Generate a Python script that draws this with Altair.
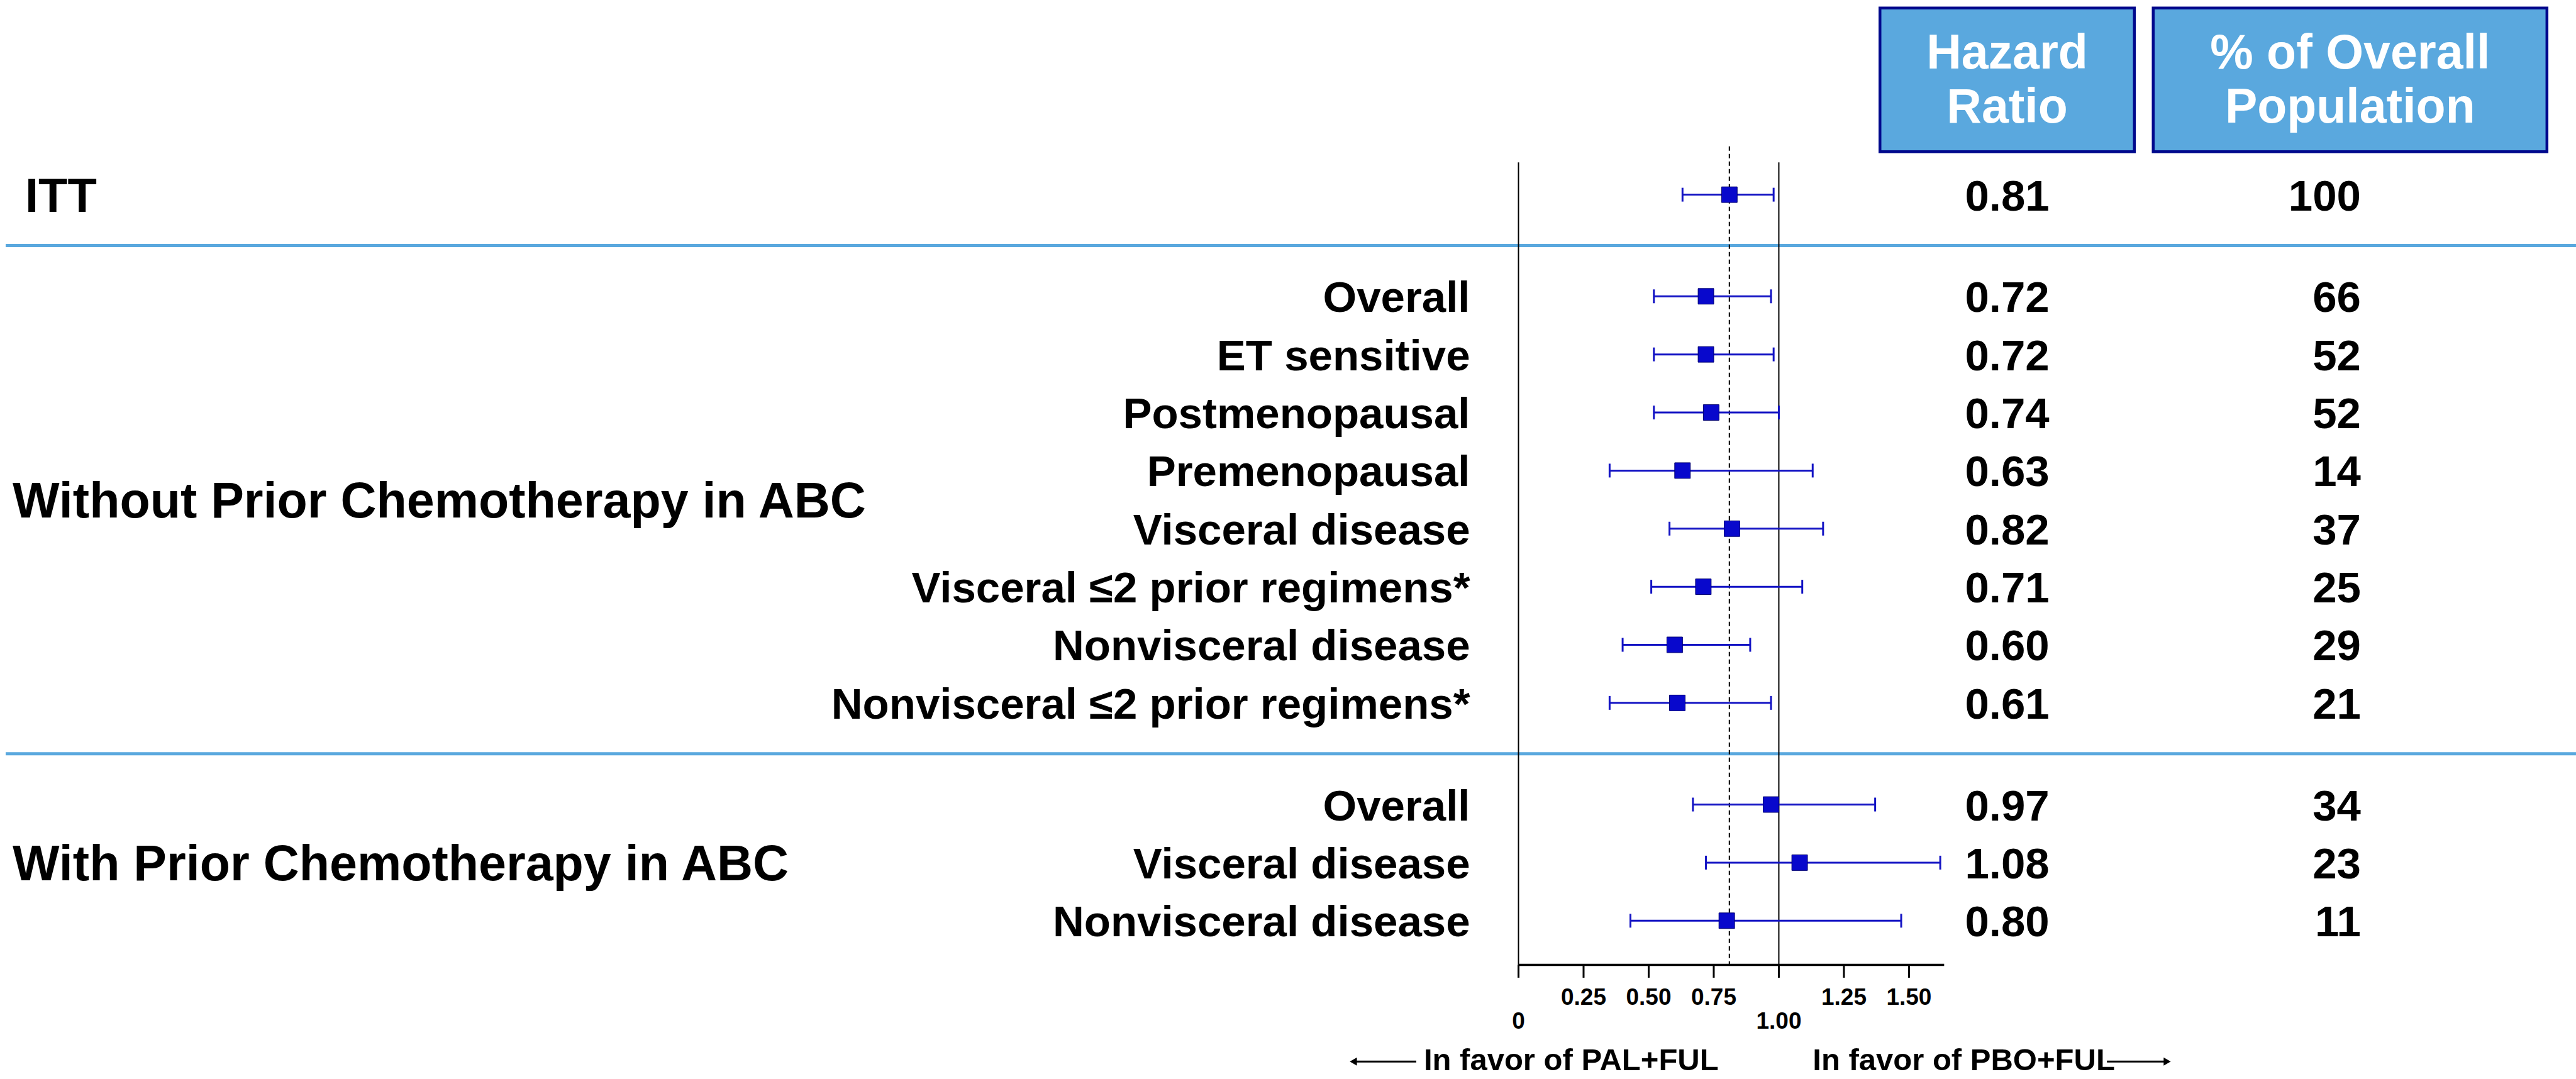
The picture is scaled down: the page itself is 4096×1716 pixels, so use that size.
import altair as alt
import pandas as pd

# ---------------------------------------------------------------- values
subgroups = [
    "ITT",
    "Overall", "ET sensitive", "Postmenopausal", "Premenopausal",
    "Visceral disease", "Visceral ≤2 prior regimens*",
    "Nonvisceral disease", "Nonvisceral ≤2 prior regimens*",
    "Overall", "Visceral disease", "Nonvisceral disease",
]
groups = (["ITT"]
          + ["Without Prior Chemotherapy in ABC"] * 8
          + ["With Prior Chemotherapy in ABC"] * 3)
hazard_ratio = [0.81, 0.72, 0.72, 0.74, 0.63, 0.82, 0.71, 0.60, 0.61, 0.97, 1.08, 0.80]
ci_low = [0.63, 0.52, 0.52, 0.52, 0.35, 0.58, 0.51, 0.40, 0.35, 0.67, 0.72, 0.43]
ci_high = [0.98, 0.97, 0.98, 1.00, 1.13, 1.17, 1.09, 0.89, 0.97, 1.37, 1.62, 1.47]
pct_overall = [100, 66, 52, 52, 14, 37, 25, 29, 21, 34, 23, 11]

axis_ticks = [0, 0.25, 0.50, 0.75, 1.00, 1.25, 1.50]
axis_tick_labels = ["0", "0.25", "0.50", "0.75", "1.00", "1.25", "1.50"]
axis_end = 1.635
header_hr = ["Hazard", "Ratio"]
header_pct = ["% of Overall", "Population"]
favor_left = "In favor of PAL+FUL"
favor_right = "In favor of PBO+FUL"

# ---------------------------------------------------------------- layout
W, H = 4096, 1716
S = W / 4789.0                      # design units -> pixels
FONT = "Liberation Sans"
SEP_BLUE = "#5AA8DE"
BOX_FILL = "#5AA8DE"
BOX_EDGE = "#00088C"
CI_BLUE = "#1414C4"
SQ_BLUE = "#0808CC"

X0 = 2823 * S                       # pixel of HR = 0
UNIT = 484 * S                      # pixels per HR unit
x_scale = alt.Scale(domain=[-X0 / UNIT, (W - X0) / UNIT], nice=False, zero=False)

ROW0 = 362 * S                      # pixel of the first row
ROWH = 108 * S                      # pixels per row
y_scale = alt.Scale(domain=[-ROW0 / ROWH, (H - ROW0) / ROWH],
                    reverse=True, nice=False, zero=False)

# row slots: one unit per row, a wider step between groups
slots, s = [], 0.0
for i, g in enumerate(groups):
    if i > 0:
        s += 1.75 if g != groups[i - 1] else 1.0
    slots.append(s)

df = pd.DataFrame({
    "subgroup": subgroups, "group": groups, "slot": slots,
    "hr": hazard_ratio, "lo": ci_low, "hi": ci_high, "pct": pct_overall,
})
df["hr_txt"] = [f"{v:.2f}" for v in hazard_ratio]
df["pct_txt"] = [str(v) for v in pct_overall]

grp = df.groupby("group", sort=False)["slot"].agg(["min", "max"]).reset_index()
grp["mid"] = (grp["min"] + grp["max"]) / 2
sep = pd.DataFrame({"slot": [(grp["max"][i] + grp["min"][i + 1]) / 2
                             for i in range(len(grp) - 1)]})
group_lab = grp[grp["group"] != "ITT"]

itt = df[df["group"] == "ITT"]
rows = df[df["group"] != "ITT"]

ticks = pd.DataFrame({"t": axis_ticks, "lab": axis_tick_labels})
ticks["lower"] = [v in (0, 1.0) for v in axis_ticks]
refs = pd.DataFrame({"v": [0.0, 1.0]})
axis_df = pd.DataFrame({"a": [0.0], "b": [axis_end]})
one = pd.DataFrame({"k": [0]})

Y = alt.Y("slot:Q", scale=y_scale, axis=None)


def X(field):
    return alt.X(field, type="quantitative", scale=x_scale, axis=None)


layers = []

# header boxes and their titles
for (x1, x2, lines, cx) in [(3495, 3968, header_hr, 3731.5),
                            (4003, 4735, header_pct, 4369)]:
    layers.append(alt.Chart(one).mark_rect(
        fill=BOX_FILL, stroke=BOX_EDGE, strokeWidth=4.5).encode(
        x=alt.value(x1 * S), x2=alt.value(x2 * S),
        y=alt.value(15 * S), y2=alt.value(282 * S)))
    for ln, base in zip(lines, [128, 228]):
        layers.append(alt.Chart(one).mark_text(
            text=ln, font=FONT, fontWeight="bold", fontSize=77, color="white",
            align="center", baseline="alphabetic").encode(
            x=alt.value(cx * S), y=alt.value(base * S)))

# blue separators between groups
layers.append(alt.Chart(sep).mark_rule(color=SEP_BLUE, strokeWidth=5).encode(
    x=alt.value(9), x2=alt.value(W), y=Y))

# reference lines at HR 0 and 1, dashed line at the ITT estimate
layers.append(alt.Chart(refs).mark_rule(color="black", strokeWidth=2).encode(
    x=X("v"), y=alt.value(302 * S), y2=alt.value(1794 * S)))
layers.append(alt.Chart(itt).mark_rule(color="black", strokeWidth=2,
                                       strokeDash=[7, 5]).encode(
    x=X("hr"), y=alt.value(272 * S), y2=alt.value(1794 * S)))

# x axis drawn from the HR scale
layers.append(alt.Chart(axis_df).mark_rule(color="black", strokeWidth=3.5).encode(
    x=X("a"), x2="b:Q", y=alt.value(1794 * S)))
layers.append(alt.Chart(ticks).mark_rule(color="black", strokeWidth=3).encode(
    x=X("t"), y=alt.value(1794 * S), y2=alt.value(1818 * S)))
for lower, base in [(False, 1868), (True, 1913)]:
    layers.append(alt.Chart(ticks[ticks["lower"] == lower]).mark_text(
        font=FONT, fontWeight="bold", fontSize=37, color="black",
        align="center", baseline="alphabetic").encode(
        x=X("t"), y=alt.value(base * S), text="lab:N"))

# confidence intervals with end caps, and the estimates
layers.append(alt.Chart(df).mark_rule(color=CI_BLUE, strokeWidth=3).encode(
    x=X("lo"), x2="hi:Q", y=Y))
for f in ["lo", "hi"]:
    layers.append(alt.Chart(df).mark_tick(
        orient="vertical", size=22, thickness=3, color=CI_BLUE, opacity=1).encode(
        x=X(f), y=Y))
layers.append(alt.Chart(df).mark_square(
    size=620, color=SQ_BLUE, opacity=1, stroke="#000070", strokeWidth=1).encode(
    x=X("hr"), y=Y))

# text columns
text_kw = dict(font=FONT, fontWeight="bold", color="black", baseline="middle", dy=4)
layers.append(alt.Chart(itt).mark_text(align="left", fontSize=76, **text_kw).encode(
    x=alt.value(40), y=Y, text="subgroup:N"))
layers.append(alt.Chart(group_lab).mark_text(align="left", fontSize=79, **text_kw).encode(
    x=alt.value(20), y=alt.Y("mid:Q", scale=y_scale, axis=None), text="group:N"))
layers.append(alt.Chart(rows).mark_text(align="right", fontSize=69, **text_kw).encode(
    x=alt.value(2733 * S), y=Y, text="subgroup:N"))
layers.append(alt.Chart(df).mark_text(align="center", fontSize=69, **text_kw).encode(
    x=alt.value(3731.5 * S), y=Y, text="hr_txt:N"))
layers.append(alt.Chart(df).mark_text(align="right", fontSize=69, **text_kw).encode(
    x=alt.value(4389 * S), y=Y, text="pct_txt:N"))

# direction notes under the axis
ARROW_Y = 1974 * S
NOTE_BASE = 1990 * S
layers.append(alt.Chart(one).mark_text(
    text=favor_left, font=FONT, fontWeight="bold", fontSize=49, color="black",
    align="left", baseline="alphabetic").encode(
    x=alt.value(2647 * S), y=alt.value(NOTE_BASE)))
layers.append(alt.Chart(one).mark_text(
    text=favor_right, font=FONT, fontWeight="bold", fontSize=49, color="black",
    align="left", baseline="alphabetic").encode(
    x=alt.value(3370 * S), y=alt.value(NOTE_BASE)))
layers.append(alt.Chart(one).mark_rule(color="black", strokeWidth=3).encode(
    x=alt.value(2520 * S), x2=alt.value(2633 * S), y=alt.value(ARROW_Y)))
layers.append(alt.Chart(one).mark_rule(color="black", strokeWidth=3).encode(
    x=alt.value(3917 * S), x2=alt.value(4026 * S), y=alt.value(ARROW_Y)))
layers.append(alt.Chart(one).mark_point(
    shape="triangle-left", filled=True, size=170, color="black", opacity=1).encode(
    x=alt.value(2516 * S), y=alt.value(ARROW_Y)))
layers.append(alt.Chart(one).mark_point(
    shape="triangle-right", filled=True, size=170, color="black", opacity=1).encode(
    x=alt.value(4029 * S), y=alt.value(ARROW_Y)))

chart = alt.layer(*layers).properties(
    width=W, height=H, padding=0, background="white",
    autosize=alt.AutoSizeParams(type="none"),
).configure_view(stroke=None)

chart.save("out.html", embed_options={"renderer": "svg", "actions": False})
